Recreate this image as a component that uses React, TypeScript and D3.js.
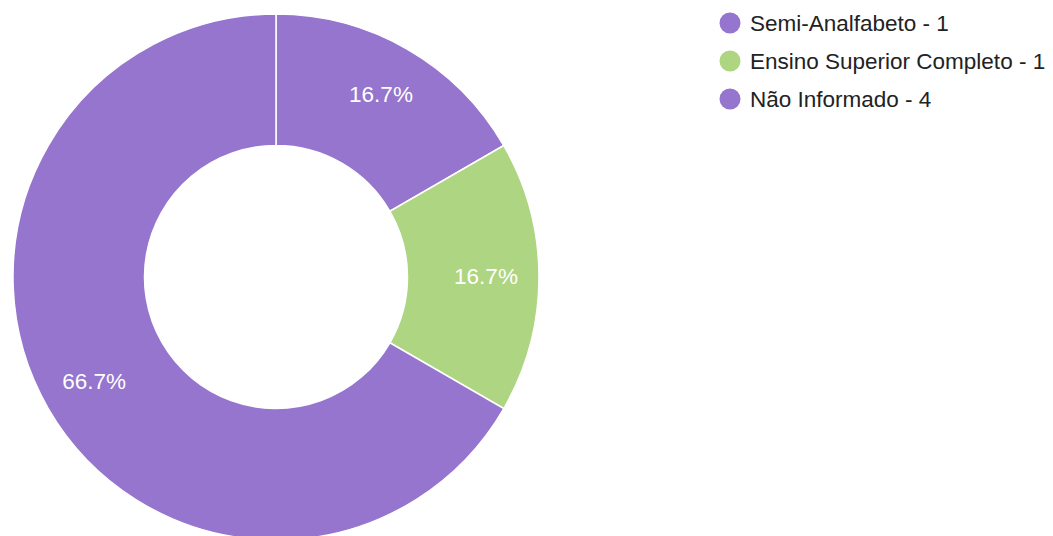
import React from "react";
import * as d3 from "d3";

const categories = ["Semi-Analfabeto", "Ensino Superior Completo", "Não Informado"];
const values = [1, 1, 4];
const colors = ["#9575cd", "#aed581", "#9575cd"];

export default function App() {
  const width = 1053;
  const height = 536;
  const cx = 276;
  const cy = 277;
  const outerR = 263;
  const innerR = 131.5;
  const labelR = 210;
  const total = d3.sum(values);

  const pie = d3.pie<number>().sort(null).value((d) => d)(values);
  const arc = d3.arc<d3.PieArcDatum<number>>().innerRadius(innerR).outerRadius(outerR);
  const labelArc = d3.arc<d3.PieArcDatum<number>>().innerRadius(labelR).outerRadius(labelR);

  const legendY = d3.scalePoint<number>().domain(d3.range(categories.length)).range([23, 99]);

  return (
    <svg
      width={width}
      height={height}
      style={{ position: "absolute", left: 0, top: 0, fontFamily: "'Liberation Sans', Arial, sans-serif" }}
    >
      <rect width={width} height={height} fill="#ffffff" />
      <g transform={`translate(${cx},${cy})`}>
        {pie.map((p, i) => (
          <path key={i} d={arc(p) || ""} fill={colors[i]} stroke="#ffffff" strokeWidth={1.5} />
        ))}
        {pie.map((p, i) => {
          const [x, y] = labelArc.centroid(p);
          return (
            <text
              key={i}
              x={x}
              y={y - 1}
              dy="0.35em"
              textAnchor="middle"
              fill="#ffffff"
              fontSize={22.5}
            >
              {((values[i] / total) * 100).toFixed(1)}%
            </text>
          );
        })}
      </g>
      <g>
        {categories.map((c, i) => (
          <g key={c} transform={`translate(730,${legendY(i)})`}>
            <circle r={10.5} fill={colors[i]} />
            <text x={20} dy="0.35em" fontSize={22.5} fill="#222222">
              {`${c} - ${values[i]}`}
            </text>
          </g>
        ))}
      </g>
    </svg>
  );
}
